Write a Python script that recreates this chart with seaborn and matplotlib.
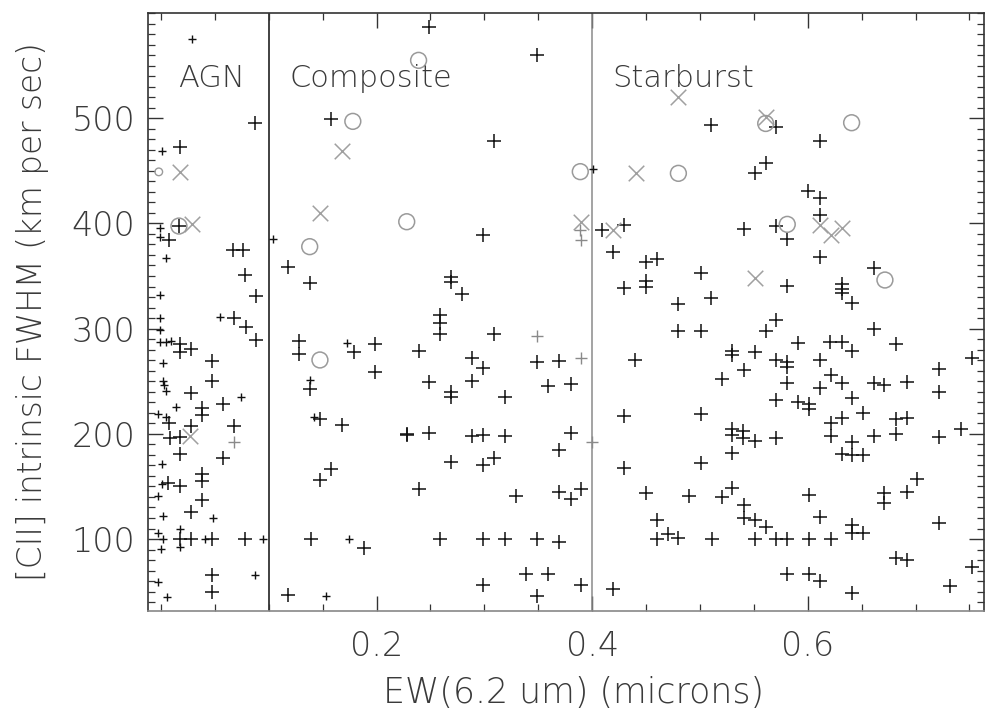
import matplotlib
matplotlib.use("Agg")
import matplotlib.pyplot as plt
from matplotlib.ticker import MultipleLocator, FixedLocator
import seaborn as sns
import pandas as pd

# ---------------- data ----------------
plus_big_x = [0.087, 0.018, 0.0167, 0.0077, 0.067, 0.076, 0.078, 0.088, 0.068, 0.079,
              0.088, 0.0176, 0.0176, 0.0275, 0.0476, 0.0476, 0.0275, 0.0578, 0.0377, 0.0377,
              0.0077, 0.0275, 0.068, 0.0083, 0.0176, 0.0176, 0.0578, 0.0377, 0.0377, 0.0068,
              0.0176, 0.0377, 0.0275, 0.0176, 0.0275, 0.0476, 0.078, 0.0476, 0.0476,
              0.118, 0.138, 0.158, 0.128, 0.128, 0.179, 0.199, 0.199, 0.239, 0.138,
              0.148, 0.168, 0.228, 0.158, 0.148, 0.239, 0.139, 0.188, 0.118, 0.249,
              0.349, 0.309, 0.299, 0.269, 0.269, 0.279, 0.2588, 0.2588, 0.2588, 0.309,
              0.289, 0.299, 0.349, 0.369, 0.249, 0.289, 0.269, 0.269, 0.319, 0.359,
              0.38, 0.2285, 0.249, 0.289, 0.299, 0.319, 0.38, 0.369, 0.269, 0.299,
              0.309, 0.329, 0.369, 0.38, 0.3896, 0.2588, 0.299, 0.319, 0.349, 0.369,
              0.3386, 0.359, 0.299, 0.3896, 0.349,
              0.409, 0.43, 0.4196, 0.4496, 0.46, 0.4295, 0.4496, 0.4496, 0.5007, 0.48,
              0.44, 0.43, 0.43, 0.4196, 0.4496, 0.49, 0.46, 0.46, 0.47, 0.48,
              0.5007, 0.5007, 0.51, 0.571, 0.611, 0.551, 0.561, 0.6005, 0.611, 0.611,
              0.541, 0.571, 0.581, 0.611, 0.581, 0.6314, 0.6314, 0.6314, 0.641, 0.661,
              0.51, 0.571, 0.48, 0.5007, 0.561, 0.6617, 0.591, 0.6206, 0.6314, 0.641,
              0.682, 0.530, 0.530, 0.551, 0.571, 0.581, 0.581, 0.611, 0.541, 0.52,
              0.581, 0.611, 0.6215, 0.6314, 0.661, 0.671, 0.692, 0.722, 0.722, 0.7526,
              0.641, 0.571, 0.591, 0.601, 0.601, 0.651, 0.6215, 0.6314, 0.682, 0.692,
              0.530, 0.530, 0.540, 0.540, 0.551, 0.571, 0.6215, 0.641, 0.6314, 0.641,
              0.6515, 0.6617, 0.682, 0.722, 0.742, 0.530, 0.701, 0.692, 0.671, 0.671,
              0.52, 0.53, 0.541, 0.601, 0.541, 0.551, 0.561, 0.611, 0.641, 0.641,
              0.6515, 0.722, 0.511, 0.551, 0.571, 0.581, 0.601, 0.6215, 0.682, 0.692,
              0.7526, 0.581, 0.601, 0.611, 0.641, 0.732]
plus_big_y = [495, 473, 397.5, 384.2, 374.7, 374.7, 351, 331.3, 309.8, 301.8,
              289.2, 285.1, 278, 280.3, 269.5, 250.5, 238.5, 228.3, 224.8, 217.9,
              210, 207.4, 207.4, 195.7, 196.7, 180.8, 176.7, 161.8, 155.1, 153,
              150.7, 137.1, 125.4, 99.7, 99.7, 99.7, 99.7, 65.8, 49.9,
              358.8, 343, 499, 288.5, 275.9, 278, 285.1, 259, 279, 242.6,
              213.8, 208.4, 199.5, 166.5, 156.1, 147.5, 100, 91.2, 46.8, 586.4,
              560, 478.6, 389, 349.4, 344.6, 332.9, 313, 305.6, 294.9, 294.9,
              271.8, 262.3, 268, 269.5, 249, 250.2, 240, 234.7, 234.7, 245.4,
              247.3, 198.9, 201, 197.9, 198.9, 197.9, 200.5, 184.6, 172.9, 170.3,
              177.3, 141.2, 145, 138, 147.5, 100, 100, 100, 100, 96.9,
              66.7, 66.7, 56.3, 56.3, 45.8,
              393.7, 398.5, 373.1, 363, 365.8, 339, 345.2, 339.3, 353.1, 323.4,
              270.2, 216.9, 167.2, 52.5, 144, 140.9, 118.1, 99.7, 104.8, 101,
              172, 218.8, 493.5, 491.4, 478.3, 448.2, 457.7, 430.9, 423.9, 408,
              394.7, 397.8, 385.2, 368.4, 340.8, 342.4, 337.4, 333.6, 323.9, 357.9,
              328.7, 308.2, 298, 298, 298, 299.3, 286, 287, 287, 279,
              285.4, 279, 274.9, 278, 270.2, 268, 263.2, 270.2, 260.6, 252.1,
              248, 243.8, 255.9, 248.6, 248, 246.4, 249.5, 261.3, 240, 271.8,
              233.7, 232.1, 230.5, 228.3, 223.6, 219.5, 210, 214.7, 214.1, 214.7,
              204.2, 198.9, 203, 195.7, 193.4, 195.7, 197.9, 192.6, 180.8, 179.8,
              179.8, 197.9, 199.5, 196.7, 204.2, 182, 156.7, 145, 143.4, 133.9,
              139.6, 148.8, 132.3, 141.8, 119.7, 118.1, 111.7, 120.6, 113.3, 105.4,
              105.4, 114.8, 100, 100, 100, 100, 100, 100, 81.7, 80.1,
              73.1, 66.7, 66.7, 60.4, 48.4, 55.3]

plus_small_x = [0.029, 0.001, -0.001, -0.001, 0.005, -0.001, -0.001, 0.0547, -0.001, -0.001,
                0.0046, 0.009, 0.002, 0.002, 0.003, 0.005, 0.074, 0.0139, -0.0025, 0.005,
                0.0006, 0.0006, -0.0025, 0.002, 0.0485, -0.0025, 0.002, 0.0176, 0.0176, 0.0408,
                0.095, 0.0, 0.087, -0.0025, 0.006, 0.104, 0.173, 0.138, 0.142, 0.174,
                0.153, 0.401]
plus_small_y = [575, 469, 396, 386.8, 366.8, 332, 309.8, 311.3, 298.7, 287,
                287, 288.5, 267, 250.5, 246.4, 241, 235.3, 225.8, 218.5, 216.3,
                171, 152.3, 141.2, 121.9, 119.7, 105.4, 99.7, 109.2, 92.7, 99.7,
                99.7, 90.2, 65.8, 59.4, 44.6, 384.9, 286, 251.2, 215.7, 100,
                45.8, 451.7]

plus_gray_x = [0.068, 0.349, 0.3896, 0.389, 0.39, 0.3995]
plus_gray_y = [191.9, 293, 271.8, 393.7, 384.2, 192.6]

cross_x = [0.018, 0.0285, 0.0269, 0.168, 0.1475, 0.39, 0.4196, 0.4406, 0.48, 0.561,
           0.611, 0.6215, 0.6314, 0.551]
cross_y = [449, 399.4, 197.9, 469, 409.6, 401.6, 393.7, 447.6, 520.5, 501.4,
           398.5, 389, 395.3, 347.7]

circle_x = [0.0167, 0.239, 0.178, 0.228, 0.138, 0.1475, 0.389, 0.48, 0.561, 0.6407,
            0.581, 0.6716]
circle_y = [397.5, 555, 497, 401.6, 377.9, 270.2, 449.2, 447.6, 495, 495.7,
            399.1, 346.2]
circle_small_x = [-0.002]
circle_small_y = [449]

class_labels = ["AGN", "Composite", "Starburst"]
class_label_x = [0.016, 0.119, 0.419]
class_label_y = [530, 530, 530]
class_bounds = [0.1, 0.4]

x_ticks = [0.2, 0.4, 0.6]
y_ticks = [100, 200, 300, 400, 500]
x_label = "EW(6.2 um) (microns)"
y_label = "[CII] intrinsic FWHM (km per sec)"

# ---------------- figure ----------------
sns.set_theme(style="white")
plt.rcParams['font.family'] = ['DejaVu Sans']
TXT = '#3a3a3a'

fig = plt.figure(figsize=(9.85, 7.11), dpi=100)
ax = fig.add_axes([148 / 985, 100 / 711, 836 / 985, 598 / 711])

df_big = pd.DataFrame({"x": plus_big_x, "y": plus_big_y})
df_small = pd.DataFrame({"x": plus_small_x, "y": plus_small_y})
df_gray = pd.DataFrame({"x": plus_gray_x, "y": plus_gray_y})
df_cross = pd.DataFrame({"x": cross_x, "y": cross_y})
df_circ = pd.DataFrame({"x": circle_x, "y": circle_y})
df_circs = pd.DataFrame({"x": circle_small_x, "y": circle_small_y})

sns.scatterplot(data=df_big, x="x", y="y", ax=ax, marker="+", s=95,
                color="#111111", linewidth=1.1, legend=False, zorder=3)
sns.scatterplot(data=df_small, x="x", y="y", ax=ax, marker="+", s=38,
                color="#111111", linewidth=1.0, legend=False, zorder=3)
sns.scatterplot(data=df_gray, x="x", y="y", ax=ax, marker="+", s=80,
                color="#8a8a8a", linewidth=1.0, legend=False, zorder=3)
sns.scatterplot(data=df_cross, x="x", y="y", ax=ax, marker="x", s=125,
                color="#a0a0a0", linewidth=1.1, legend=False, zorder=3)
sns.scatterplot(data=df_circ, x="x", y="y", ax=ax, marker="o", s=130,
                facecolor="none", edgecolor="#9a9a9a", linewidth=1.1,
                legend=False, zorder=3)
sns.scatterplot(data=df_circs, x="x", y="y", ax=ax, marker="o", s=30,
                facecolor="none", edgecolor="#9a9a9a", linewidth=1.0,
                legend=False, zorder=3)

ax.axvline(class_bounds[0], color="#333333", lw=1.3, zorder=2)
ax.axvline(class_bounds[1], color="#8a8a8a", lw=1.1, zorder=2)

for lab, lx, ly in zip(class_labels, class_label_x, class_label_y):
    ax.text(lx, ly, lab, fontsize=22, color=TXT, fontweight=200,
            ha="left", va="baseline")

ax.set_xlim(-0.012, 0.7635)
ax.set_ylim(31.6, 600)

ax.xaxis.set_major_locator(FixedLocator(x_ticks))
ax.xaxis.set_minor_locator(MultipleLocator(0.05))
ax.yaxis.set_major_locator(FixedLocator(y_ticks))
ax.yaxis.set_minor_locator(MultipleLocator(10))

ax.tick_params(axis="both", which="both", direction="in", top=True, right=True,
               bottom=True, left=True, colors="#333333")
ax.tick_params(axis="x", which="major", length=11, width=1.0, pad=14,
               labelsize=24, labelcolor=TXT)
ax.tick_params(axis="x", which="minor", length=5, width=0.9)
ax.tick_params(axis="y", which="major", length=11, width=1.0, pad=9,
               labelsize=24, labelcolor=TXT)
ax.tick_params(axis="y", which="minor", length=5, width=0.9)
for lbl in ax.get_xticklabels() + ax.get_yticklabels():
    lbl.set_fontweight(200)

ax.set_xlabel(x_label, fontsize=25, color=TXT, fontweight=200)
ax.set_ylabel(y_label, fontsize=23.5, color=TXT, fontweight=200)
ax.xaxis.set_label_coords(0.5096, -0.108)
ax.yaxis.set_label_coords(-0.119, 0.5)

for side, sp in ax.spines.items():
    sp.set_visible(True)
    sp.set_linewidth(1.2)
    sp.set_color("#333333")
ax.spines["bottom"].set_color("#888888")

fig.savefig("out.png", dpi=100, facecolor="white")
